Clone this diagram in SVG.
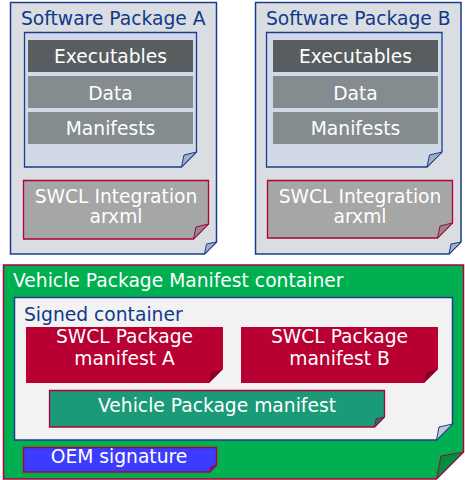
<svg xmlns="http://www.w3.org/2000/svg" width="465" height="480" viewBox="0 0 465 480">
<style>
text{font-family:"DejaVu Sans","Verdana",sans-serif;font-size:18.7px;}
.t{fill:#0F3A8A;}
.w{fill:#FFFFFF;}
.c{text-anchor:middle;fill:#FFFFFF;}
.page{fill:#DADDE2;stroke:#1A3C8F;stroke-width:1.5;}
.pagecurl{fill:#A3B0C2;stroke:#1A3C8F;stroke-width:1;}
.inner{fill:#D0D9E5;stroke:#1A3C8F;stroke-width:1.3;}
.exe{fill:#585D60;}
.dat{fill:#858C8F;}
.swcl{fill:#A6A6A6;stroke:#B0003A;stroke-width:1.3;}
.swclcurl{fill:#8C8C8C;stroke:#B0003A;stroke-width:1;}
.veh{fill:#00B050;stroke:#B0003A;stroke-width:1.5;}
.vehcurl{fill:#008E40;stroke:#B0003A;stroke-width:1;}
.signed{fill:#F2F2F2;stroke:#1A3C8F;stroke-width:1.5;}
.signedcurl{fill:#C5CAD2;stroke:#1A3C8F;stroke-width:1;}
.man{fill:#B80032;}
.mancurl{fill:#8E0028;}
.vpm{fill:#1A9A77;stroke:#B0003A;stroke-width:1.3;}
.vpmcurl{fill:#137A5E;stroke:#B0003A;stroke-width:1;}
.oem{fill:#3C3CFF;stroke:#B0003A;stroke-width:1.5;}
.oemcurl{fill:#2A2AC0;stroke:#B0003A;stroke-width:1;}
</style>

<g id="packageA">
  <polygon class="page" points="10.5,2.5 216.5,2.5 216.5,242 204.5,254 10.5,254"/>
  <polygon class="pagecurl" points="204.5,254 206.5,244 216.5,242"/>
  <text class="t" x="21" y="25">Software Package A</text>
  <g id="innerA">
    <polygon class="inner" points="24.5,32.5 196.5,32.5 196.5,152 181.5,167 24.5,167"/>
    <polygon class="pagecurl" points="181.5,167 184,155 196.5,152"/>
  </g>
  <g id="exeA"><rect class="exe" x="28" y="40" width="165" height="32"/><text class="c" x="110.5" y="62.7">Executables</text></g>
  <g id="dataA"><rect class="dat" x="28" y="76" width="165" height="32"/><text class="c" x="110.5" y="99.5">Data</text></g>
  <g id="manifestsA"><rect class="dat" x="28" y="112" width="165" height="32"/><text class="c" x="110.5" y="134.7">Manifests</text></g>
  <g id="swclIntA">
    <polygon class="swcl" points="23.5,180.5 208.5,180.5 208.5,224 193.5,239 23.5,239"/>
    <polygon class="swclcurl" points="193.5,239 196,227 208.5,224"/>
    <text class="c" x="116" y="203.3">SWCL Integration</text>
    <text class="c" x="116" y="222.7">arxml</text>
  </g>
</g>

<g id="packageB">
  <polygon class="page" points="255.5,2.5 461,2.5 461,242 449,254 255.5,254"/>
  <polygon class="pagecurl" points="449,254 451,244 461,242"/>
  <text class="t" x="266" y="25">Software Package B</text>
  <g id="innerB">
    <polygon class="inner" points="266.5,32.5 442,32.5 442,152 427,167 266.5,167"/>
    <polygon class="pagecurl" points="427,167 429.5,155 442,152"/>
  </g>
  <g id="exeB"><rect class="exe" x="273" y="40" width="165" height="32"/><text class="c" x="355.5" y="62.7">Executables</text></g>
  <g id="dataB"><rect class="dat" x="273" y="76" width="165" height="32"/><text class="c" x="355.5" y="99.5">Data</text></g>
  <g id="manifestsB"><rect class="dat" x="273" y="112" width="165" height="32"/><text class="c" x="355.5" y="134.7">Manifests</text></g>
  <g id="swclIntB">
    <polygon class="swcl" points="267.5,180.5 452.5,180.5 452.5,223 437.5,238 267.5,238"/>
    <polygon class="swclcurl" points="437.5,238 440,226 452.5,223"/>
    <text class="c" x="360" y="203.3">SWCL Integration</text>
    <text class="c" x="360" y="222.7">arxml</text>
  </g>
</g>

<g id="vehicleContainer">
  <polygon class="veh" points="3.5,265 463.5,265 463.5,452 436.5,479 3.5,479"/>
  <polygon class="vehcurl" points="436.5,479 441,456 463.5,452"/>
  <text class="w" x="13" y="287">Vehicle Package Manifest container</text>
</g>

<g id="signedContainer">
  <polygon class="signed" points="14.5,297.5 452.5,297.5 452.5,424 436.5,440 14.5,440"/>
  <polygon class="signedcurl" points="436.5,440 439,427 452.5,424"/>
  <text class="t" x="24" y="321">Signed container</text>
</g>

<g id="manifestA">
  <polygon class="man" points="26,327 223,327 223,369 209,383 26,383"/>
  <polygon class="mancurl" points="209,383 211,372 223,369"/>
  <text class="c" x="124.5" y="343.3">SWCL Package</text>
  <text class="c" x="124.5" y="365.3">manifest A</text>
</g>

<g id="manifestB">
  <polygon class="man" points="241,327 438,327 438,369 424,383 241,383"/>
  <polygon class="mancurl" points="424,383 426,372 438,369"/>
  <text class="c" x="339.5" y="343.3">SWCL Package</text>
  <text class="c" x="339.5" y="365.3">manifest B</text>
</g>

<g id="vehiclePackageManifest">
  <polygon class="vpm" points="49.5,390.5 384.5,390.5 384.5,417 374.5,427 49.5,427"/>
  <polygon class="vpmcurl" points="374.5,427 376,419 384.5,417"/>
  <text class="c" x="217" y="411.7">Vehicle Package manifest</text>
</g>

<g id="oemSignature">
  <polygon class="oem" points="23.5,447.5 216.5,447.5 216.5,465 209.5,472 23.5,472"/>
  <polygon class="oemcurl" points="209.5,472 210.5,467 216.5,465"/>
  <text class="c" x="119" y="463.3">OEM signature</text>
</g>

<g id="connectors"></g>
</svg>
